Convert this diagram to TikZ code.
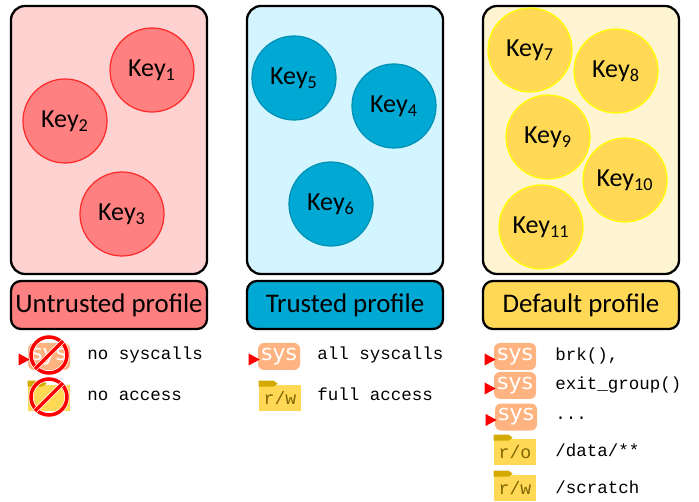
\documentclass[tikz,border=0pt]{standalone}
\usepackage{fontspec}
\setmainfont{Carlito}
\setmonofont{Liberation Mono}
\newfontfamily\sysfont{DejaVu Sans}
\usetikzlibrary{positioning}
\definecolor{redlight}{HTML}{FFD2D2}
\definecolor{redmid}{HTML}{FF8080}
\definecolor{redline}{HTML}{FF2A2A}
\definecolor{bluelight}{HTML}{D2F5FF}
\definecolor{bluemid}{HTML}{00A8D4}
\definecolor{blueline}{HTML}{0090B4}
\definecolor{yellowlight}{HTML}{FFF4D2}
\definecolor{yellowmid}{HTML}{FFD955}
\definecolor{yellowline}{HTML}{FFFF00}
\definecolor{tabgold}{HTML}{D4AA00}
\definecolor{sysorange}{HTML}{FFB380}
\definecolor{foldertext}{HTML}{806600}
\tikzset{
  panel/.style={draw=black, line width=1.3pt, rounded corners=0.28cm},
  profile/.style={draw=black, line width=1.3pt, rounded corners=0.2cm, inner sep=0pt, minimum width=3.92cm, minimum height=0.96cm, font=\fontsize{15.3}{18}\selectfont},
  keynode/.style={circle, line width=0.7pt, minimum size=1.68cm, inner sep=0pt, font=\fontsize{14.8}{17}\selectfont},
  keyred/.style={keynode, draw=redline, fill=redmid},
  keyblue/.style={keynode, draw=blueline, fill=bluemid},
  keyyellow/.style={keynode, draw=yellowline, fill=yellowmid},
  sysbox/.style={fill=sysorange, rounded corners=0.12cm, minimum width=0.84cm, minimum height=0.54cm, inner sep=0pt, text=white, font=\sysfont\fontsize{12.5}{14}\selectfont},
  folderbox/.style={fill=yellowmid, minimum width=0.84cm, minimum height=0.52cm, inner sep=0pt, text=foldertext, font=\ttfamily\fontsize{10.3}{12}\selectfont},
  rule/.style={anchor=west, inner sep=0pt, text height=1.6ex, text depth=0.4ex, font=\ttfamily\fontsize{9.95}{12}\selectfont},
  forbid/.style={circle, draw=red, line width=2pt, minimum size=0.72cm, inner sep=0pt},
  halo/.style={circle, draw=white, line width=2.8pt, minimum size=0.72cm, inner sep=0pt},
  pics/foldertab/.style={code={\fill[tabgold] (0,0.08) -- (0.3,0.08) -- (0.38,0.02) -- (0.3,-0.04) -- (0,-0.04) -- cycle;}},
  pics/sysmark/.style={code={\fill[red] (-0.18,-0.18) -- (0.04,-0.06) -- (-0.18,0.06) -- cycle;}},
}
\begin{document}
\begin{tikzpicture}
    \useasboundingbox (0,0) rectangle (13.98,10.02);

    \draw[panel, fill=redlight] (0.22,4.54) rectangle (4.14,9.9);
    \draw[panel, fill=bluelight] (4.94,4.54) rectangle (8.86,9.9);
    \draw[panel, fill=yellowlight] (9.66,4.54) rectangle (13.58,9.9);

    \node[profile, fill=redmid] (untrusted) at (2.18,3.92) {Untrusted profile};
    \node[profile, fill=bluemid] (trusted) at (6.9,3.92) {Trusted profile};
    \node[profile, fill=yellowmid] (default) at (11.62,3.92) {Default profile};

    \node[keyred] (key1) at (3.04,8.62) {Key\textsubscript{1}};
    \node[keyred] (key2) at (1.3,7.6) {Key\textsubscript{2}};
    \node[keyred] (key3) at (2.44,5.74) {Key\textsubscript{3}};

    \node[keyblue] (key5) at (5.88,8.46) {Key\textsubscript{5}};
    \node[keyblue] (key4) at (7.88,7.9) {Key\textsubscript{4}};
    \node[keyblue] (key6) at (6.62,5.94) {Key\textsubscript{6}};

    \node[keyyellow] (key7) at (10.6,9.02) {Key\textsubscript{7}};
    \node[keyyellow] (key8) at (12.32,8.6) {Key\textsubscript{8}};
    \node[keyyellow] (key9) at (10.96,7.28) {Key\textsubscript{9}};
    \node[keyyellow] (key10) at (12.5,6.42) {Key\textsubscript{10}};
    \node[keyyellow] (key11) at (10.82,5.48) {Key\textsubscript{11}};

    % untrusted
    \node[sysbox] (sys1) at (0.98,2.89) {sys};
    \pic at (sys1.west) {sysmark};
    \node[folderbox] (folder1) at (0.98,2.06) {};
    \pic at (folder1.north west) {foldertab};
    \node[halo] (halosys) at (0.98,2.92) {};
    \node[halo] (halofolder) at (0.98,2.08) {};
    \node[forbid] (nosys) at (0.98,2.92) {};
    \node[forbid] (nofolder) at (0.98,2.08) {};
    \draw[white, line width=2.8pt] (nosys.225) -- (nosys.45);
    \draw[white, line width=2.8pt] (nofolder.225) -- (nofolder.45);
    \draw[red, line width=2pt] (nosys.225) -- (nosys.45);
    \draw[red, line width=2pt] (nofolder.225) -- (nofolder.45);
    \node[rule] (rule1) at (1.74,2.94) {no syscalls};
    \node[rule] (rule2) at (1.74,2.12) {no access};

    % trusted
    \node[sysbox] (sys2) at (5.58,2.89) {sys};
    \pic at (sys2.west) {sysmark};
    \node[folderbox] (folder2) at (5.6,2.06) {r/w};
    \pic at (folder2.north west) {foldertab};
    \node[rule] (rule3) at (6.34,2.94) {all syscalls};
    \node[rule] (rule4) at (6.34,2.12) {full access};

    % default
    \node[sysbox] (sys3) at (10.3,2.89) {sys};
    \pic at (sys3.west) {sysmark};
    \node[sysbox] (sys4) at (10.3,2.31) {sys};
    \pic at (sys4.west) {sysmark};
    \node[sysbox] (sys5) at (10.32,1.68) {sys};
    \pic at (sys5.west) {sysmark};
    \node[folderbox] (folder3) at (10.3,0.98) {r/o};
    \pic at (folder3.north west) {foldertab};
    \node[folderbox] (folder4) at (10.3,0.26) {r/w};
    \pic at (folder4.north west) {foldertab};
    \node[rule] (rule5) at (11.1,2.92) {brk(),};
    \node[rule] (rule6) at (11.1,2.34) {exit\_group()};
    \node[rule] (rule7) at (11.1,1.74) {...};
    \node[rule] (rule8) at (11.1,1.0) {/data/**};
    \node[rule] (rule9) at (11.1,0.26) {/scratch};
\end{tikzpicture}
\end{document}
